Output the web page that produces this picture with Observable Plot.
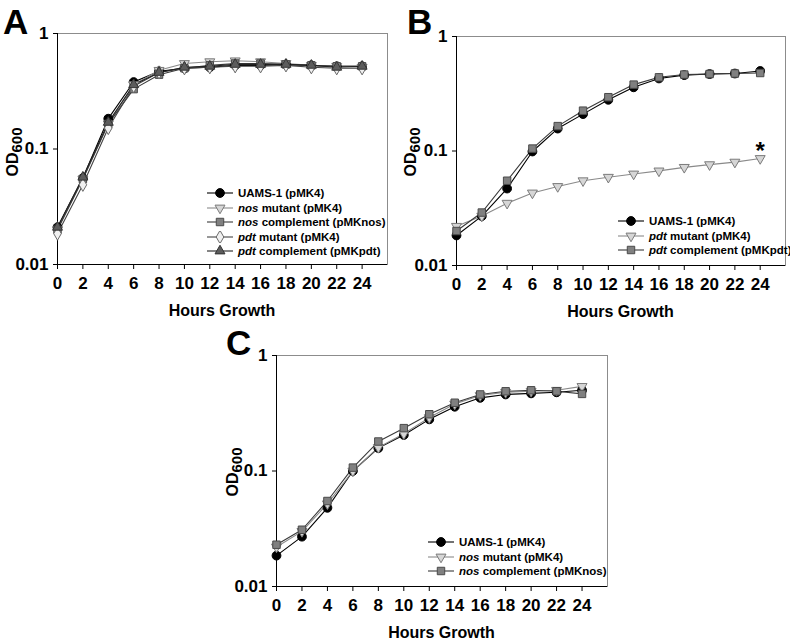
<!DOCTYPE html>
<html><head><meta charset="utf-8">
<script src="https://cdn.jsdelivr.net/npm/d3@7"></script>
<script src="https://cdn.jsdelivr.net/npm/@observablehq/plot@0.6"></script>
<style>
body{margin:0;background:#fff;font-family:"Liberation Sans",Arial,sans-serif;}
#fig{position:relative;width:790px;height:640px;overflow:hidden;background:#fff}
.panel{position:absolute;}
.panel svg{max-width:none !important}
.legend{position:absolute;font-size:11.5px;font-weight:bold;white-space:nowrap;color:#000}
.legend .row{display:flex;align-items:center;height:14.5px}
.legend svg{margin-right:5px;flex:none}
#overlay{position:absolute;left:0;top:0;pointer-events:none}
</style></head>
<body><div id="fig"></div>
<script>
// ---- data ----
const hours = [0,2,4,6,8,10,12,14,16,18,20,22,24];
const xTicks = [0,2,4,6,8,10,12,14,16,18,20,22,24];
const yTicks = [0.01,0.1,1];

// Panel A
const uamsA    = [0.021,0.056,0.183,0.38,0.47,0.50,0.51,0.53,0.53,0.54,0.53,0.52,0.52];
const nosMutA  = [0.020,0.055,0.165,0.36,0.48,0.55,0.57,0.58,0.57,0.55,0.53,0.52,0.51];
const nosCompA = [0.020,0.055,0.165,0.33,0.44,0.50,0.53,0.55,0.55,0.54,0.53,0.52,0.52];
const pdtMutA  = [0.0185,0.049,0.152,0.35,0.46,0.50,0.51,0.52,0.52,0.53,0.51,0.50,0.50];
const pdtCompA = [0.021,0.057,0.170,0.36,0.46,0.51,0.52,0.54,0.54,0.54,0.53,0.51,0.52];
// Panel B
const uamsB    = [0.0183,0.027,0.047,0.099,0.157,0.21,0.28,0.36,0.43,0.46,0.47,0.475,0.50];
const pdtMutB  = [0.022,0.027,0.035,0.043,0.049,0.055,0.059,0.063,0.067,0.072,0.076,0.080,0.086];
const pdtCompB = [0.020,0.029,0.055,0.105,0.165,0.225,0.295,0.38,0.44,0.465,0.47,0.475,0.48];
// Panel C
const uamsC    = [0.0185,0.027,0.048,0.10,0.158,0.205,0.28,0.36,0.43,0.46,0.47,0.48,0.50];
const nosMutC  = [0.022,0.030,0.052,0.10,0.16,0.21,0.29,0.38,0.45,0.48,0.49,0.50,0.54];
const nosCompC = [0.023,0.031,0.055,0.107,0.18,0.235,0.31,0.39,0.46,0.49,0.50,0.49,0.465];

const asteriskB = [{h:24, od:0.1, text:"*"}];

const labelsA = [["","UAMS-1 (pMK4)"],["nos"," mutant (pMK4)"],["nos"," complement (pMKnos)"],["pdt"," mutant (pMK4)"],["pdt"," complement (pMKpdt)"]];
const labelsB = [["","UAMS-1 (pMK4)"],["pdt"," mutant (pMK4)"],["pdt"," complement (pMKpdt)"]];
const labelsC = [["","UAMS-1 (pMK4)"],["nos"," mutant (pMK4)"],["nos"," complement (pMKnos)"]];

// ---- marker styles ----
const ST = {
  circle:  {symbol:"circle",   rotate:0,   r:4.4, fill:"#000",    stroke:"#000",    line:"#000"},
  triDown: {symbol:"triangle", rotate:180, r:3.7, fill:"#d6d6d6", stroke:"#7a7a7a", line:"#8a8a8a"},
  square:  {symbol:"square",   rotate:0,   r:4.2, fill:"#808080", stroke:"#4a4a4a", line:"#3a3a3a"},
  diamond: {symbol:"diamond",  rotate:0,   r:4.0, fill:"#f0f0f0", stroke:"#6a6a6a", line:"#444"},
  triUp:   {symbol:"triangle", rotate:0,   r:3.7, fill:"#5c5c5c", stroke:"#333",    line:"#222"}
};

const fig = document.getElementById("fig");

function makePanel(cfg){
  const marks = [
    Plot.frame({stroke:"#8c8c8c", strokeWidth:1}),
    Plot.ruleX([0], {stroke:"#000", strokeWidth:1}),
    Plot.ruleY([0.01], {stroke:"#000", strokeWidth:1}),
    Plot.axisX({ticks:xTicks, tickSize:5, tickPadding:7, label:null, fontSize:17, fontWeight:"bold"}),
    Plot.axisY({ticks:yTicks, tickSize:4, tickPadding:5, label:null, fontSize:17, fontWeight:"bold", tickFormat:d => String(d)})
  ];
  cfg.series.forEach(s => {
    const rows = hours.map((h,i) => ({h, od:s.values[i]}));
    marks.push(Plot.line(rows, {x:"h", y:"od", stroke:s.style.line, strokeWidth:1.1}));
  });
  cfg.series.forEach(s => {
    const rows = hours.map((h,i) => ({h, od:s.values[i]}));
    marks.push(Plot.dot(rows, {x:"h", y:"od", symbol:s.style.symbol, rotate:s.style.rotate,
      r:s.style.r, fill:s.style.fill, stroke:s.style.stroke, strokeWidth:1}));
  });
  if (cfg.annot) marks.push(Plot.text(cfg.annot, {x:"h", y:"od", text:"text", fontSize:24, fontWeight:"bold", lineAnchor:"middle"}));
  const svg = Plot.plot({
    width:cfg.width, height:cfg.height,
    marginLeft:cfg.m[0], marginRight:cfg.m[1], marginTop:cfg.m[2], marginBottom:cfg.m[3],
    x:{domain:[0,26]},
    y:{type:"log", domain:[0.01,1]},
    style:{fontFamily:"Liberation Sans, Arial, sans-serif", fontWeight:"bold", background:"transparent", color:"#000", overflow:"visible"},
    marks
  });
  const sel = d3.select(svg);
  sel.attr("width", cfg.width).attr("height", cfg.height).style("width", cfg.width+"px").style("height", cfg.height+"px");
  const fl = cfg.m[0], fr = cfg.width - cfg.m[1], fb = cfg.height - cfg.m[3];
  sel.append("text").attr("x",(fl+fr)/2).attr("y",fb+52).attr("text-anchor","middle")
    .style("font-size","16px").style("font-weight","bold").text("Hours Growth");
  const t = sel.append("text").attr("transform",`translate(${cfg.odx},152) rotate(-90)`)
    .attr("text-anchor","middle").style("font-size","16px").style("font-weight","bold");
  t.append("tspan").text("OD");
  t.append("tspan").attr("dy",4).style("font-size","15px").text("600");
  const div = document.createElement("div");
  div.className = "panel";
  div.style.left = cfg.left+"px"; div.style.top = cfg.top+"px";
  div.style.width = cfg.width+"px"; div.style.height = cfg.height+"px";
  div.appendChild(svg);
  fig.appendChild(div);

  // legend
  const lg = document.createElement("div");
  lg.className = "legend";
  lg.style.left = cfg.legend[0]+"px"; lg.style.top = cfg.legend[1]+"px";
  cfg.series.forEach((s,i) => {
    const row = document.createElement("div"); row.className = "row";
    const ls = d3.create("svg").attr("width",26).attr("height",12);
    ls.append("line").attr("x1",0).attr("x2",26).attr("y1",6).attr("y2",6).attr("stroke",s.style.line).attr("stroke-width",1.1);
    const size = Math.PI * s.style.r * s.style.r;
    const symMap = {circle:d3.symbolCircle, square:d3.symbolSquare, diamond:d3.symbolDiamond, triangle:d3.symbolTriangle};
    ls.append("path").attr("d", d3.symbol(symMap[s.style.symbol], size)())
      .attr("transform",`translate(13,6) rotate(${s.style.rotate})`)
      .attr("fill",s.style.fill).attr("stroke",s.style.stroke);
    row.appendChild(ls.node());
    const sp = document.createElement("span");
    const lab = cfg.labels[i];
    if (lab[0]) { const it = document.createElement("i"); it.textContent = lab[0]; sp.appendChild(it); }
    sp.appendChild(document.createTextNode(lab[1]));
    row.appendChild(sp);
    lg.appendChild(row);
  });
  fig.appendChild(lg);
}

makePanel({left:0, top:0, width:395, height:325, m:[57,8,33,61], odx:18,
  series:[{values:uamsA, style:ST.circle},{values:nosMutA, style:ST.triDown},{values:nosCompA, style:ST.square},
          {values:pdtMutA, style:ST.diamond},{values:pdtCompA, style:ST.triUp}],
  labels:labelsA, legend:[207,186]});
makePanel({left:395, top:0, width:395, height:325, m:[61,5,36,60], odx:21,
  series:[{values:uamsB, style:ST.circle},{values:pdtMutB, style:ST.triDown},{values:pdtCompB, style:ST.square}],
  labels:labelsB, legend:[618,214], annot:asteriskB});
makePanel({left:190, top:320, width:420, height:320, m:[86,3,35,54], odx:48,
  series:[{values:uamsC, style:ST.circle},{values:nosMutC, style:ST.triDown},{values:nosCompC, style:ST.square}],
  labels:labelsC, legend:[428,535]});

// panel letters
const ov = d3.select(fig).append("svg").attr("id","overlay").attr("width",790).attr("height",640);
[["A",3,34],["B",407,34],["C",226,355]].forEach(([t,x,y]) =>
  ov.append("text").attr("x",x).attr("y",y).style("font-family","Liberation Sans, Arial, sans-serif")
    .style("font-size","35px").style("font-weight","bold").text(t));
</script>
</body></html>
